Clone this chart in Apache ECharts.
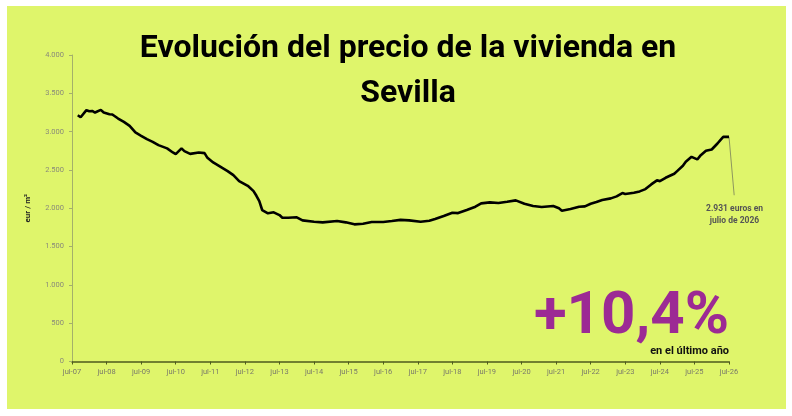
<!DOCTYPE html>
<html>
<head>
<meta charset="utf-8">
<script src="https://cdn.jsdelivr.net/npm/echarts@6/dist/echarts.min.js"></script>
<style>
html,body{margin:0;padding:0;background:#ffffff;width:792px;height:416px;overflow:hidden;}
#c{position:absolute;left:7px;top:6px;width:779px;height:403px;background:#dff56b;}
</style>
</head>
<body>
<div id="c"></div>
<script>
// months since jul-07 (0 = jul-07, 228 = jul-26)
const months = [2,3,5,6,7,8,10,11,13,14,16,18,20,22,24,26,28,30,33,35,36,38,39,41,44,46,47,49,51,54,56,58,61,63,64,65,66,68,70,72,73,75,78,80,84,87,92,95,98,101,104,108,111,114,117,121,124,126,129,132,134,137,140,142,145,148,151,154,157,160,163,167,169,170,173,176,178,180,182,184,187,189,191,192,195,197,199,201,203,204,206,209,210,212,213,215,217,218,220,222,224,225,226,228];
const prices = [3214,3188,3280,3266,3270,3249,3284,3249,3227,3224,3171,3127,3075,2989,2945,2902,2867,2824,2781,2728,2706,2781,2745,2710,2728,2719,2658,2598,2554,2485,2432,2354,2293,2224,2163,2094,1977,1934,1947,1911,1876,1876,1882,1842,1824,1816,1833,1816,1790,1798,1820,1820,1833,1848,1842,1824,1837,1859,1898,1941,1937,1977,2020,2064,2077,2068,2085,2103,2059,2029,2016,2029,1999,1968,1990,2020,2025,2059,2081,2107,2129,2155,2198,2185,2202,2220,2250,2311,2364,2354,2398,2450,2485,2554,2606,2671,2637,2684,2749,2767,2845,2889,2932,2931];
const titleText = 'Evolución del precio de la vivienda en\nSevilla';
const yAxisName = 'eur / m²';
const lastLabel = '2.931 euros en\njulio de 2026';
const bigText = '+10,4%';
const subText = 'en el último año';
const leader = [[228,2931],[229.8,2170]];

function fmtThousands(v){
  if (v < 1000) return String(v);
  const t = Math.floor(v/1000), r = v % 1000;
  return t + '.' + String(r).padStart(3,'0');
}
function monthLabel(m){
  const yy = (7 + Math.round(m/12)) % 100;
  return 'jul-' + String(yy).padStart(2,'0');
}

const chart = echarts.init(document.getElementById('c'), null, {renderer:'canvas'});
const baseGraphic = [
  {id:'title', type:'text', x:401, y:20, style:{text:titleText, fill:'#000', font:'bold 32px Roboto', textAlign:'center', lineHeight:45}},
  {id:'lab', type:'text', left:699, top:197, style:{text:lastLabel, fill:'#555', font:'bold 8.5px Roboto', textAlign:'center', lineHeight:12}},
  {id:'big', type:'text', right:57, top:282, style:{text:bigText, fill:'#9c2a94', font:'bold 60px Roboto'}},
  {id:'sub', type:'text', right:57, top:340, style:{text:subText, fill:'#111', font:'bold 11px Roboto'}}
];
chart.setOption({
  backgroundColor: '#dff56b',
  animation: false,
  grid: {left:65, right:57, top:49, bottom:47.5, containLabel:false},
  xAxis: {
    type:'value', min:0, max:228, interval:12,
    axisLine:{show:true, lineStyle:{color:'#4f5a1e', width:1.5}},
    axisTick:{show:true, length:3, lineStyle:{color:'#4f5a1e'}},
    splitLine:{show:false},
    axisLabel:{formatter: monthLabel, color:'#7a7a6a', fontSize:7.5, fontFamily:'Roboto', margin:7}
  },
  yAxis: {
    type:'value', min:0, max:4000, interval:500,
    name: yAxisName, nameLocation:'middle', nameGap:40, nameRotate:90,
    nameTextStyle:{fontFamily:'Roboto', fontWeight:'bold', fontSize:8, color:'#222'},
    axisLine:{show:true, lineStyle:{color:'#a4b06a', width:1}},
    axisTick:{show:true, length:3, lineStyle:{color:'#a4b06a'}},
    splitLine:{show:false},
    axisLabel:{formatter: fmtThousands, color:'#8a8a7a', fontSize:7.5, fontFamily:'Roboto', margin:8}
  },
  series: [{
    type:'line',
    data: months.map((m,i)=>[m, prices[i]]),
    showSymbol:false,
    smooth:false,
    clip:false,
    lineStyle:{color:'#000', width:2.6}
  }],
  graphic: baseGraphic
});
const p0 = chart.convertToPixel({gridIndex:0}, leader[0]);
const p1 = chart.convertToPixel({gridIndex:0}, leader[1]);
chart.setOption({
  graphic: baseGraphic.concat([{
    id:'leader', type:'line', silent:true, z:1,
    shape:{x1:p0[0], y1:p0[1], x2:p1[0], y2:p1[1]},
    style:{stroke:'#555', lineWidth:0.6}
  }])
});
</script>
</body>
</html>
